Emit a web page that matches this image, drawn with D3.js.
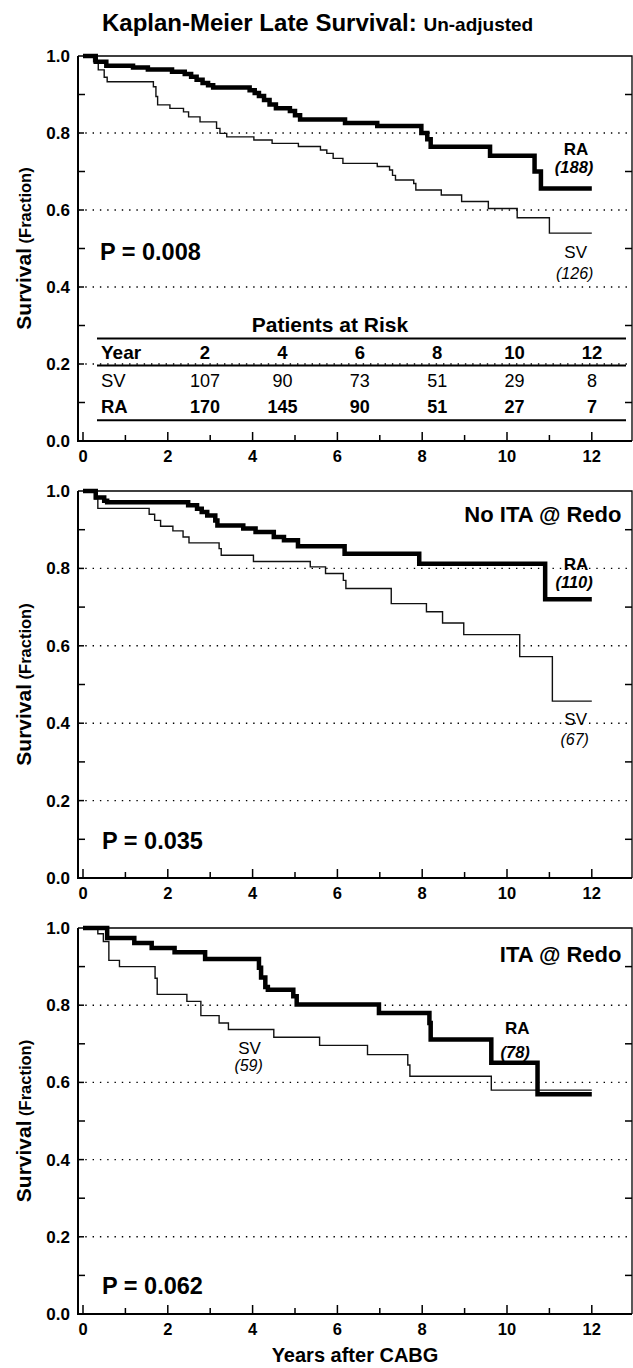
<!DOCTYPE html>
<html>
<head>
<meta charset="utf-8">
<script src="https://cdn.jsdelivr.net/npm/d3@7"></script>
<style>
  body { margin: 0; background: #fff; }
  svg text { font-family: "Liberation Sans", Arial, sans-serif; fill: #000; }
</style>
</head>
<body>
<div id="chart"></div>
<script>

// Kaplan-Meier steps: [years, survival fraction after the step]
const allRA = [[0, 1], [0.3, 0.985], [0.55, 0.975], [1.18, 0.97], [1.53, 0.965], [2.1, 0.959], [2.4, 0.953],
    [2.55, 0.946], [2.68, 0.938], [2.82, 0.93], [2.95, 0.924], [3.07, 0.918], [3.93, 0.911], [4.05, 0.904],
    [4.15, 0.896], [4.27, 0.886], [4.4, 0.874], [4.55, 0.864], [4.88, 0.857], [5.0, 0.846], [5.12, 0.835],
    [6.18, 0.826], [6.94, 0.818], [7.98, 0.8], [8.12, 0.784], [8.2, 0.764], [9.6, 0.741], [10.65, 0.7],
    [10.8, 0.656], [12, 0.656]];
const allSV = [[0, 1], [0.25, 0.985], [0.36, 0.964], [0.5, 0.945], [0.57, 0.933], [1.66, 0.92], [1.72, 0.895],
    [1.76, 0.873], [2.05, 0.864], [2.37, 0.855], [2.49, 0.842], [2.76, 0.829], [3.15, 0.812], [3.23, 0.799],
    [3.39, 0.79], [4.03, 0.782], [4.46, 0.773], [5.08, 0.765], [5.6, 0.756], [5.75, 0.747], [5.9, 0.734],
    [6.13, 0.721], [6.94, 0.713], [7.23, 0.704], [7.3, 0.69], [7.37, 0.678], [7.8, 0.669], [7.85, 0.652],
    [8.45, 0.639], [8.93, 0.622], [9.56, 0.604], [10.24, 0.58], [11.0, 0.54], [12, 0.54]];

const noItaRA = [[0, 1], [0.3, 0.983], [0.5, 0.975], [0.57, 0.971], [2.48, 0.963], [2.69, 0.954], [2.8, 0.946],
    [2.93, 0.937], [3.12, 0.924], [3.17, 0.911], [3.78, 0.903], [4.07, 0.894], [4.5, 0.881], [4.74, 0.873],
    [5.07, 0.857], [6.17, 0.838], [7.93, 0.812], [10.9, 0.72], [12, 0.72]];
const noItaSV = [[0, 1], [0.28, 0.98], [0.35, 0.955], [1.56, 0.94], [1.69, 0.924], [1.83, 0.909], [2.12, 0.897],
    [2.36, 0.881], [2.5, 0.866], [3.21, 0.851], [3.26, 0.834], [4.02, 0.818], [5.36, 0.804], [5.72, 0.787],
    [6.14, 0.769], [6.2, 0.748], [7.27, 0.709], [8.1, 0.688], [8.48, 0.659], [8.98, 0.629], [10.3, 0.572],
    [11.07, 0.457], [12, 0.457]];

const itaRA = [[0, 1], [0.57, 0.974], [1.21, 0.961], [1.62, 0.948], [2.16, 0.937], [2.88, 0.92], [4.15, 0.897],
    [4.2, 0.872], [4.3, 0.847], [4.36, 0.84], [4.96, 0.823], [5.04, 0.802], [6.98, 0.78], [8.17, 0.754],
    [8.2, 0.711], [9.63, 0.651], [10.72, 0.569], [12, 0.569]];
const itaSV = [[0, 1], [0.35, 0.985], [0.48, 0.965], [0.61, 0.916], [0.86, 0.9], [1.7, 0.87], [1.75, 0.828],
    [2.45, 0.81], [2.78, 0.773], [3.21, 0.754], [3.43, 0.737], [4.5, 0.717], [5.58, 0.696], [6.71, 0.672],
    [7.66, 0.645], [7.71, 0.616], [9.63, 0.58], [12, 0.58]];

const riskYears = [2, 4, 6, 8, 10, 12];
const riskSV = [107, 90, 73, 51, 29, 8];
const riskRA = [170, 145, 90, 51, 27, 7];

const xTickLabels = [0, 2, 4, 6, 8, 10, 12];
const yTickLabels = [0, 0.2, 0.4, 0.6, 0.8, 1.0];
const gridValues = [0.2, 0.4, 0.6, 0.8];

const panelNames = ['', 'No ITA @ Redo', 'ITA @ Redo'];
const pValues = ['0.008', '0.035', '0.062'];
const countsRA = [188, 110, 78];
const countsSV = [126, 67, 59];


const width = 633;
const height = 1368;
const left = 78;
const right = 632;

const svg = d3.select('#chart')
    .append('svg')
    .attr('width', width)
    .attr('height', height);

const x = d3.scaleLinear()
    .domain([0, 12])
    .range([83, 591.8]);

const panels = [
    {ra: allRA, sv: allSV, range: [441, 56],
        raLab: [11.63, 0.743], raGap: 18, svLab: [11.62, 0.475], svGap: 21,
        pPos: [0.4, 0.47], namePos: null},
    {ra: noItaRA, sv: noItaSV, range: [878, 491],
        raLab: [11.63, 0.795], raGap: 18, svLab: [11.62, 0.395], svGap: 20,
        pPos: [0.45, 0.074], namePos: [12.7, 0.92]},
    {ra: itaRA, sv: itaSV, range: [1314, 928],
        raLab: [10.24, 0.726], raGap: 24, svLab: [3.93, 0.673], svGap: 17,
        pPos: [0.45, 0.052], namePos: [12.7, 0.913]}
];


function txt(parent, px, py, s, size, opts = {}) {
    return parent.append('text')
        .attr('x', px)
        .attr('y', py)
        .attr('font-size', size)
        .attr('font-weight', opts.weight || 'bold')
        .attr('font-style', opts.italic ? 'italic' : 'normal')
        .attr('text-anchor', opts.anchor || 'start')
        .text(s);
}


// title
const title = svg.append('text')
    .attr('x', 102)
    .attr('y', 31)
    .attr('font-weight', 'bold');
title.append('tspan').attr('font-size', 24).text('Kaplan-Meier Late Survival: ');
title.append('tspan').attr('font-size', 19).text('Un-adjusted');


panels.forEach((p, i) => {

    const y = d3.scaleLinear()
        .domain([0, 1])
        .range(p.range);

    const g = svg.append('g');

    // dotted grid
    g.selectAll('.grid')
        .data(gridValues)
        .enter()
        .append('line')
        .attr('x1', left)
        .attr('x2', right)
        .attr('y1', (d) => y(d))
        .attr('y2', (d) => y(d))
        .attr('stroke', '#000')
        .attr('stroke-width', 1.4)
        .attr('stroke-dasharray', '1.4 5.9');

    // top and right frame
    g.append('path')
        .attr('d', `M${left},${y(1)}H${right}V${y(0)}`)
        .attr('fill', 'none')
        .attr('stroke', '#000')
        .attr('stroke-width', 1.3);

    // minor ticks on left and right
    const minor = [0.1, 0.3, 0.5, 0.7, 0.9];
    g.selectAll('.mtl')
        .data(minor)
        .enter()
        .append('line')
        .attr('x1', left).attr('x2', left + 7)
        .attr('y1', (d) => y(d)).attr('y2', (d) => y(d))
        .attr('stroke', '#000').attr('stroke-width', 1.5);
    g.selectAll('.mtr')
        .data(minor)
        .enter()
        .append('line')
        .attr('x1', right - 7).attr('x2', right)
        .attr('y1', (d) => y(d)).attr('y2', (d) => y(d))
        .attr('stroke', '#000').attr('stroke-width', 1.5);
    g.selectAll('.majl')
        .data(gridValues)
        .enter()
        .append('line')
        .attr('x1', left).attr('x2', left + 6)
        .attr('y1', (d) => y(d)).attr('y2', (d) => y(d))
        .attr('stroke', '#000').attr('stroke-width', 1.5);

    // x ticks pointing up
    g.selectAll('.xt')
        .data(d3.range(0, 13))
        .enter()
        .append('line')
        .attr('x1', (d) => x(d)).attr('x2', (d) => x(d))
        .attr('y1', y(0))
        .attr('y2', (d) => y(0) - (d % 2 === 0 ? 9 : 6))
        .attr('stroke', '#000').attr('stroke-width', 1.5);

    // axes lines
    g.append('path')
        .attr('d', `M${left},${y(1)}V${y(0)}H${right}`)
        .attr('fill', 'none')
        .attr('stroke', '#000')
        .attr('stroke-width', 2);

    // tick labels
    yTickLabels.forEach((v) => {
        txt(g, 70, y(v) + 6, v.toFixed(1), 17, {anchor: 'end'});
    });
    xTickLabels.forEach((v) => {
        txt(g, x(v), y(0) + 21, v, 16.5, {anchor: 'middle'});
    });

    // y axis title
    const yt = g.append('text')
        .attr('transform', `translate(31, ${(p.range[0] + p.range[1]) / 2}) rotate(-90)`)
        .attr('text-anchor', 'middle')
        .attr('font-weight', 'bold');
    yt.append('tspan').attr('font-size', 21).text('Survival');
    yt.append('tspan').attr('font-size', 16.5).text(' (Fraction)');

    // survival curves
    const line = d3.line()
        .x((d) => x(d[0]))
        .y((d) => y(d[1]))
        .curve(d3.curveStepAfter);

    g.append('path')
        .datum(p.sv)
        .attr('d', line)
        .attr('fill', 'none')
        .attr('stroke', '#111')
        .attr('stroke-width', 1.4);

    g.append('path')
        .datum(p.ra)
        .attr('d', line)
        .attr('fill', 'none')
        .attr('stroke', '#000')
        .attr('stroke-width', 4.5);

    // curve labels
    txt(g, x(p.raLab[0]), y(p.raLab[1]), 'RA', 17, {anchor: 'middle'});
    txt(g, x(p.raLab[0]) - 2, y(p.raLab[1]) + p.raGap, `(${countsRA[i]})`, 16.5, {anchor: 'middle', italic: true});
    txt(g, x(p.svLab[0]), y(p.svLab[1]), 'SV', 17, {anchor: 'middle', weight: 'normal'});
    txt(g, x(p.svLab[0]) - 1, y(p.svLab[1]) + p.svGap, `(${countsSV[i]})`, 16,
        {anchor: 'middle', italic: true, weight: 'normal'});

    // p value
    txt(g, x(p.pPos[0]), y(p.pPos[1]), `P = ${pValues[i]}`, 23.5);

    if (p.namePos) {
        txt(g, x(p.namePos[0]), y(p.namePos[1]), panelNames[i], 22, {anchor: 'end'});
    }

    // patients at risk table in the first panel
    if (i === 0) {
        const col = d3.scalePoint()
            .domain(riskYears)
            .range([205, 592]);

        txt(g, 330, y(0.284), 'Patients at Risk', 21, {anchor: 'middle'});

        [0.266, 0.196, 0.054].forEach((v) => {
            g.append('line')
                .attr('x1', 97).attr('x2', 626)
                .attr('y1', y(v)).attr('y2', y(v))
                .attr('stroke', '#000')
                .attr('stroke-width', 2);
        });

        txt(g, 101, y(0.212), 'Year', 19);
        txt(g, 101, y(0.141), 'SV', 18.5, {weight: 'normal'});
        txt(g, 101, y(0.072), 'RA', 18.5);

        riskYears.forEach((yr, k) => {
            txt(g, col(yr), y(0.212), yr, 18.5, {anchor: 'middle'});
            txt(g, col(yr), y(0.141), riskSV[k], 18, {anchor: 'middle', weight: 'normal'});
            txt(g, col(yr), y(0.072), riskRA[k], 18, {anchor: 'middle'});
        });
    }
});


// x axis title
txt(svg, 355, 1362, 'Years after CABG', 20, {anchor: 'middle'});

</script>
</body>
</html>
